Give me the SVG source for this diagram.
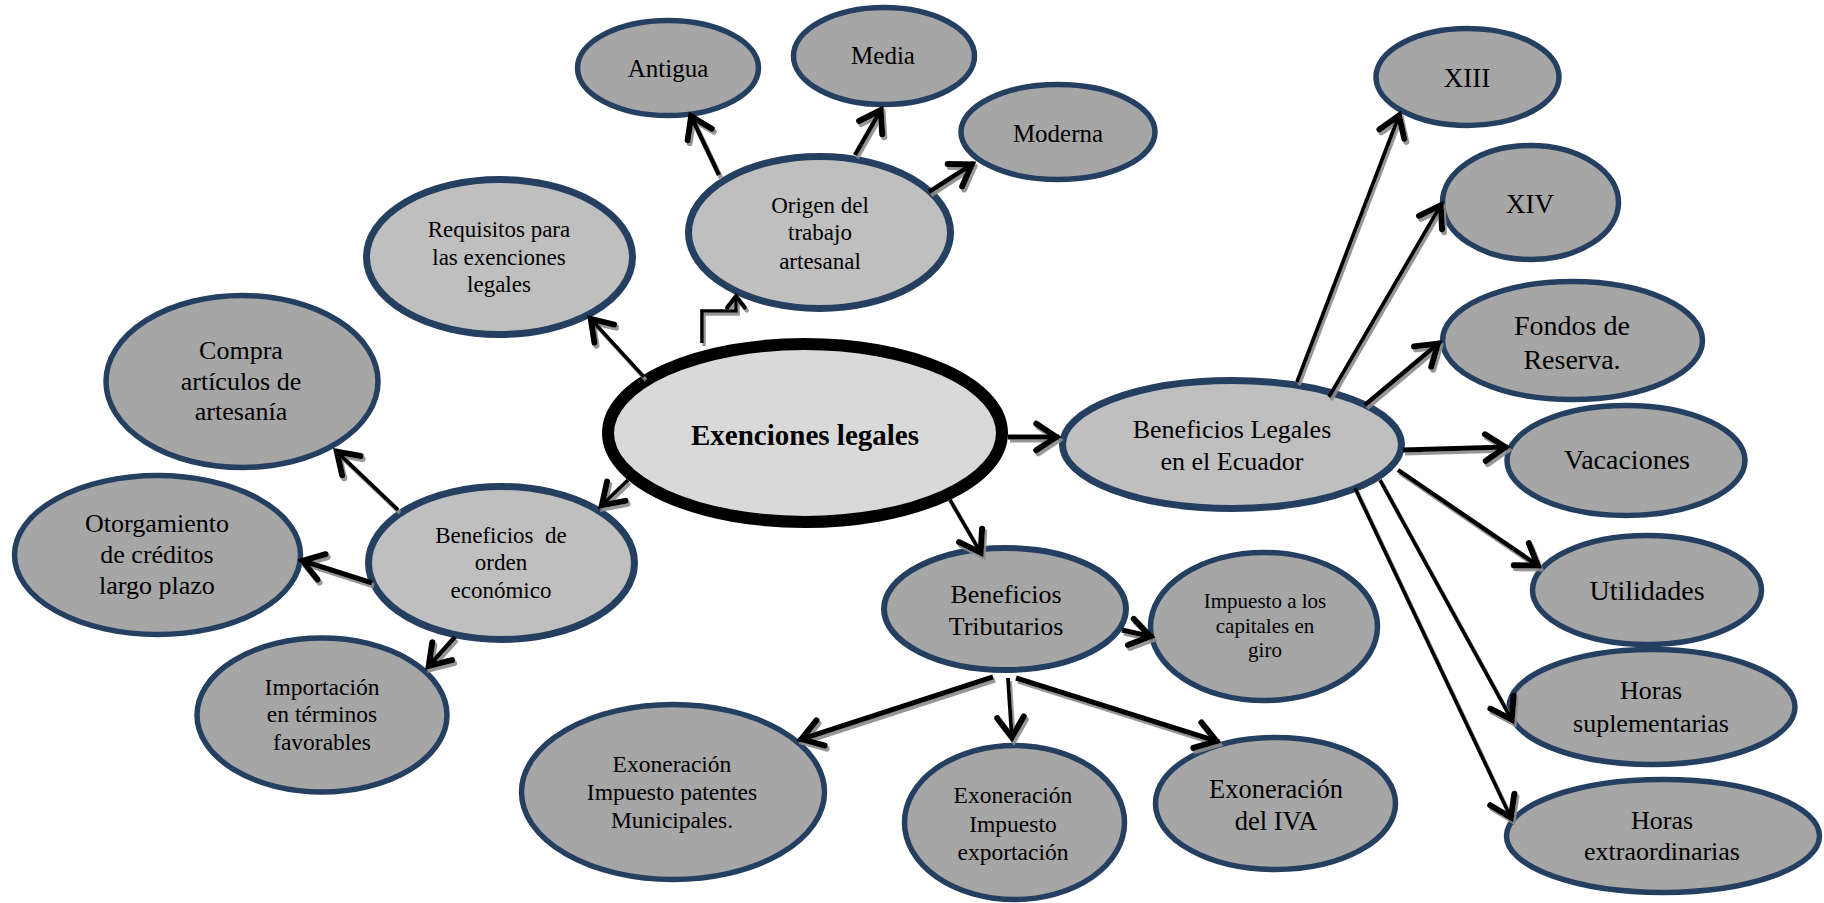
<svg xmlns="http://www.w3.org/2000/svg" width="1824" height="903" viewBox="0 0 1824 903">
<style>
.leaf{fill:#A6A6A6;stroke:#243F60;stroke-width:5.5}
.mid{fill:#BFBFBF;stroke:#243F60;stroke-width:7}
.core{fill:#D9D9D9;stroke:#000;stroke-width:12}
text{font-family:"Liberation Serif","Times New Roman",serif;fill:#000;text-anchor:middle}
.conn path{fill:none;stroke:#000;stroke-width:4.5;stroke-linejoin:miter;marker-end:url(#ah)}
.conn path.thin{stroke-width:3.8}
</style>
<defs>
<marker id="ah" markerUnits="userSpaceOnUse" orient="auto" markerWidth="40" markerHeight="40" refX="0" refY="0" viewBox="-25 -15 30 30" overflow="visible">
<path d="M-17,-10 L-2,0 L-17,10" fill="none" stroke="#000" stroke-width="4.5" stroke-linecap="round"/>
</marker>
<marker id="ahs" markerUnits="userSpaceOnUse" orient="auto" markerWidth="30" markerHeight="30" refX="0" refY="0" viewBox="-20 -12 24 24" overflow="visible">
<path d="M-10,-7 L-1,0 L-10,7" fill="none" stroke="#000" stroke-width="3.5" stroke-linecap="round"/>
</marker>
<filter id="sh" filterUnits="userSpaceOnUse" x="0" y="0" width="1824" height="903">
<feDropShadow dx="2" dy="3" stdDeviation="0.7" flood-color="#8a8a8a" flood-opacity="0.9"/>
</filter>
</defs>
<rect width="1824" height="903" fill="#fff"/>

<g id="n-central"><ellipse class="core" cx="805" cy="433" rx="197" ry="89"/><text x="805" y="445" font-size="29" font-weight="bold">Exenciones legales</text></g>
<g id="n-origen"><ellipse class="mid" cx="819.5" cy="232.5" rx="131" ry="76"/><text x="820" font-size="23"><tspan x="820" y="213">Origen del</tspan><tspan x="820" y="240">trabajo</tspan><tspan x="820" y="269">artesanal</tspan></text></g>
<g id="n-antigua"><ellipse class="leaf" cx="668" cy="68" rx="90.5" ry="47.5"/><text x="668" y="77" font-size="25">Antigua</text></g>
<g id="n-media"><ellipse class="leaf" cx="884" cy="56" rx="90.5" ry="48.5"/><text x="883" y="64" font-size="25">Media</text></g>
<g id="n-moderna"><ellipse class="leaf" cx="1058" cy="132" rx="97" ry="47.5"/><text x="1058" y="142" font-size="25">Moderna</text></g>
<g id="n-requisitos"><ellipse class="mid" cx="499.5" cy="257" rx="133" ry="77.5"/><text font-size="23"><tspan x="499" y="237">Requisitos para</tspan><tspan x="499" y="265">las exenciones</tspan><tspan x="499" y="292">legales</tspan></text></g>
<g id="n-compra"><ellipse class="leaf" cx="242" cy="381.5" rx="136" ry="86"/><text font-size="26"><tspan x="241" y="359">Compra</tspan><tspan x="241" y="390">artículos de</tspan><tspan x="241" y="420">artesanía</tspan></text></g>
<g id="n-otorgamiento"><ellipse class="leaf" cx="157.5" cy="555" rx="143" ry="79.5"/><text font-size="26"><tspan x="157" y="532">Otorgamiento</tspan><tspan x="157" y="563">de créditos</tspan><tspan x="157" y="594">largo plazo</tspan></text></g>
<g id="n-orden"><ellipse class="mid" cx="501.5" cy="563" rx="133" ry="76.5"/><text font-size="23" xml:space="preserve"><tspan x="501" y="543">Beneficios  de</tspan><tspan x="501" y="570">orden</tspan><tspan x="501" y="598">económico</tspan></text></g>
<g id="n-importacion"><ellipse class="leaf" cx="322" cy="715" rx="125" ry="77"/><text font-size="23.5"><tspan x="322" y="695">Importación</tspan><tspan x="322" y="722">en términos</tspan><tspan x="322" y="750">favorables</tspan></text></g>
<g id="n-legales"><ellipse class="mid" cx="1232" cy="444.5" rx="169.5" ry="64"/><text font-size="26"><tspan x="1232" y="438">Beneficios Legales</tspan><tspan x="1232" y="470">en el Ecuador</tspan></text></g>
<g id="n-xiii"><ellipse class="leaf" cx="1467.5" cy="77" rx="91.5" ry="48.5"/><text x="1467" y="87" font-size="27">XIII</text></g>
<g id="n-xiv"><ellipse class="leaf" cx="1530.5" cy="202.5" rx="88" ry="57"/><text x="1530" y="213" font-size="27">XIV</text></g>
<g id="n-fondos"><ellipse class="leaf" cx="1572.5" cy="340.5" rx="130" ry="59"/><text font-size="28"><tspan x="1572" y="335">Fondos de</tspan><tspan x="1572" y="369">Reserva.</tspan></text></g>
<g id="n-vacaciones"><ellipse class="leaf" cx="1626" cy="460.5" rx="119" ry="55"/><text x="1627" y="469" font-size="28">Vacaciones</text></g>
<g id="n-utilidades"><ellipse class="leaf" cx="1647" cy="590" rx="114.5" ry="54.5"/><text x="1647" y="600" font-size="28">Utilidades</text></g>
<g id="n-suplementarias"><ellipse class="leaf" cx="1652" cy="707" rx="143" ry="57.5"/><text font-size="26"><tspan x="1651" y="699">Horas</tspan><tspan x="1651" y="732">suplementarias</tspan></text></g>
<g id="n-extraordinarias"><ellipse class="leaf" cx="1663" cy="836" rx="156.5" ry="56.5"/><text font-size="26"><tspan x="1662" y="829">Horas</tspan><tspan x="1662" y="860">extraordinarias</tspan></text></g>
<g id="n-tributarios"><ellipse class="leaf" cx="1005" cy="609" rx="121" ry="61" style="stroke-width:6"/><text font-size="26"><tspan x="1006" y="603">Beneficios</tspan><tspan x="1006" y="635">Tributarios</tspan></text></g>
<g id="n-capitales"><ellipse class="leaf" cx="1264" cy="626.5" rx="113.5" ry="74"/><text font-size="21"><tspan x="1265" y="608">Impuesto a los</tspan><tspan x="1265" y="633">capitales en</tspan><tspan x="1265" y="657">giro</tspan></text></g>
<g id="n-patentes"><ellipse class="leaf" cx="673" cy="792" rx="151.5" ry="87.5"/><text font-size="23.5"><tspan x="672" y="772">Exoneración</tspan><tspan x="672" y="800">Impuesto patentes</tspan><tspan x="672" y="828">Municipales.</tspan></text></g>
<g id="n-exportacion"><ellipse class="leaf" cx="1014.5" cy="822.5" rx="110" ry="77"/><text font-size="23.5"><tspan x="1013" y="803">Exoneración</tspan><tspan x="1013" y="832">Impuesto</tspan><tspan x="1013" y="860">exportación</tspan></text></g>
<g id="n-iva"><ellipse class="leaf" cx="1275.5" cy="803.5" rx="120" ry="66"/><text font-size="26.5"><tspan x="1276" y="798">Exoneración</tspan><tspan x="1276" y="830">del IVA</tspan></text></g>

<g id="connectors" class="conn" filter="url(#sh)">
<path d="M719,175 L690,114"/>
<path d="M855,155 L882,108"/>
<path d="M929,192 L974,163"/>
<path d="M702,343 V311 H736 V295" style="stroke-width:3.6;marker-end:url(#ahs)"/>
<path class="thin" d="M644,377 L589,317"/>
<path class="thin" d="M628,480 L600,507"/>
<path d="M1008,437 L1059,437" style="stroke-width:5"/>
<path class="thin" d="M950,500 L982,555"/>
<path class="thin" d="M398,510 L335,450"/>
<path d="M372,583 L300,560" style="stroke-width:5"/>
<path d="M455,637 L427,668"/>
<path class="thin" d="M1297,382 L1400,113"/>
<path class="thin" d="M1329,397 L1442,203"/>
<path d="M1365,405 L1440,342"/>
<path d="M1403,450 L1508,447" style="stroke-width:5"/>
<path d="M1398,470 L1540,567"/>
<path class="thin" d="M1380,480 L1513,722"/>
<path class="thin" d="M1355,488 L1512,820"/>
<path d="M1122,630 L1153,637" style="stroke-width:5"/>
<path d="M993,677 L799,740" style="stroke-width:5"/>
<path class="thin" d="M1008,678 L1012,740"/>
<path d="M1016,678 L1219,742" style="stroke-width:5"/>
</g>
</svg>
